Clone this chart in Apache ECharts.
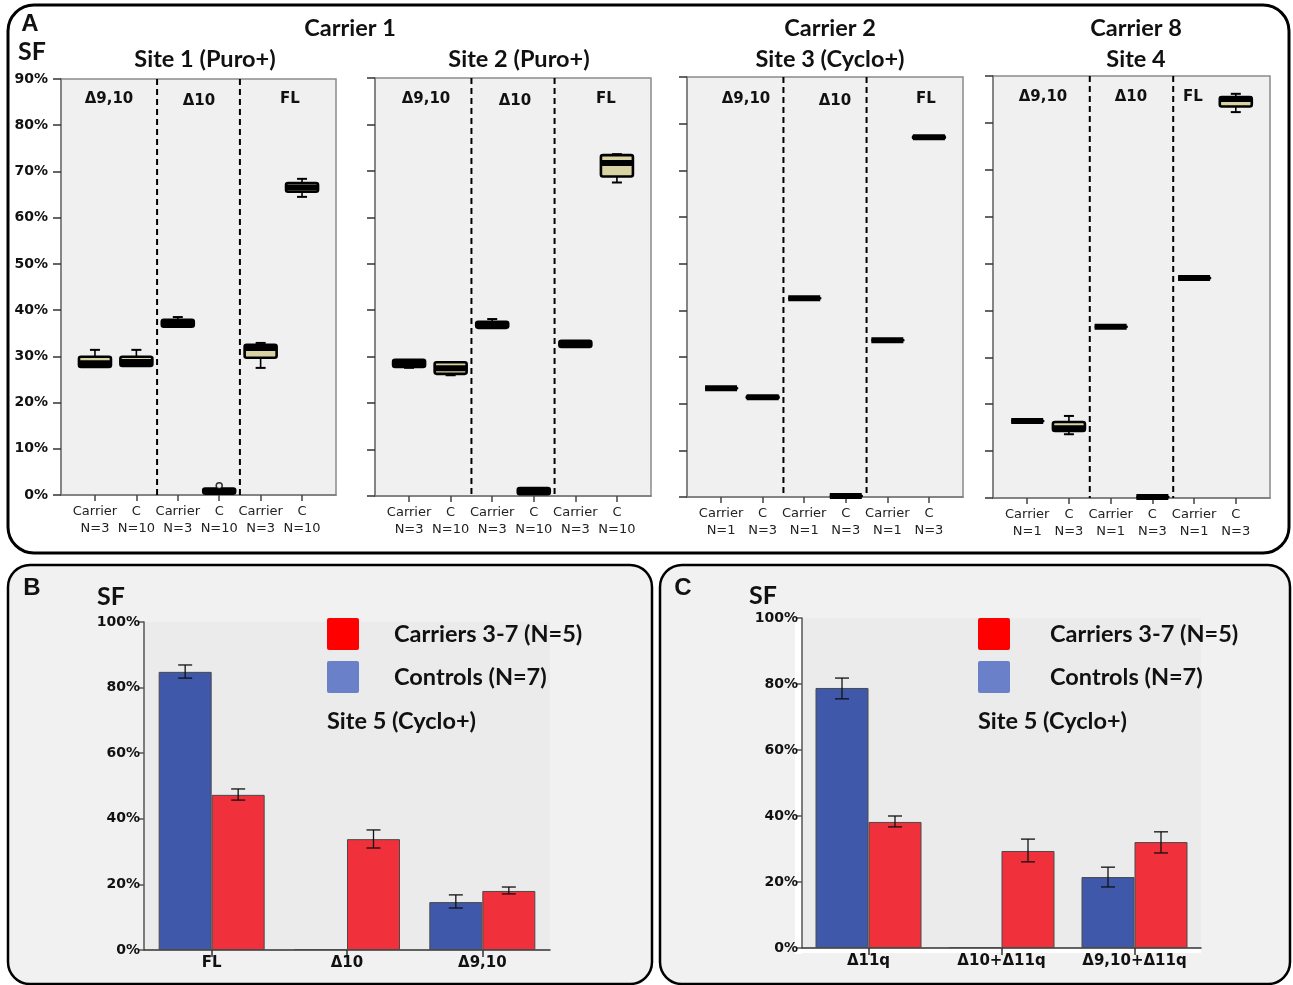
<!DOCTYPE html>
<html>
<head>
<meta charset="utf-8">
<script src="https://cdn.jsdelivr.net/npm/echarts@6/dist/echarts.min.js"></script>
<style>
  html, body { margin: 0; padding: 0; background: #fff; }
  #chart { width: 1293px; height: 985px; }
</style>
</head>
<body>
<div id="chart"></div>
<script>
// ---- Panel A: splicing fraction per site, box summaries [min, Q1, median, Q3, max] (%)
const groupNames = ['Δ9,10', 'Δ10', 'FL'];
const carrierTitles = ['Carrier 1', 'Carrier 2', 'Carrier 8'];
const siteTitles = ['Site 1 (Puro+)', 'Site 2 (Puro+)', 'Site 3 (Cyclo+)', 'Site 4'];
const boxCategories = ['Carrier', 'C', 'Carrier', 'C', 'Carrier', 'C'];
const sampleSizesSites12 = [3, 10, 3, 10, 3, 10];
const sampleSizesSites34 = [1, 3, 1, 3, 1, 3];
const percentTicksA = [0, 10, 20, 30, 40, 50, 60, 70, 80, 90];

const site1Boxes = [
  [27.7, 27.7, 28.5, 29.9, 31.4],
  [27.9, 27.9, 28.8, 29.9, 31.4],
  [36.4, 36.4, 37.2, 37.9, 38.5],
  [0.2, 0.3, 0.8, 1.4, 1.5],
  [27.5, 29.7, 31.8, 32.5, 32.9],
  [64.5, 65.6, 66.5, 67.5, 68.4]
];
const site1Outliers = [[3, 2.0]];
const site2Boxes = [
  [27.6, 27.8, 28.6, 29.3, 29.3],
  [26.0, 26.3, 27.5, 28.8, 28.9],
  [36.2, 36.2, 36.9, 37.5, 38.1],
  [0.4, 0.4, 1.0, 1.7, 1.7],
  [32.1, 32.1, 32.8, 33.4, 33.4],
  [67.5, 68.8, 71.7, 73.4, 73.6]
];
const site3Boxes = [
  [23.3, 23.3, 23.3, 23.3, 23.3],
  [21.2, 21.2, 21.4, 21.6, 21.6],
  [42.6, 42.6, 42.6, 42.6, 42.6],
  [0.2, 0.2, 0.2, 0.2, 0.2],
  [33.6, 33.6, 33.6, 33.6, 33.6],
  [76.9, 76.9, 77.1, 77.3, 77.3]
];
const site4Boxes = [
  [16.4, 16.4, 16.4, 16.4, 16.4],
  [13.6, 14.3, 14.9, 16.2, 17.5],
  [36.5, 36.5, 36.5, 36.5, 36.5],
  [0.2, 0.2, 0.2, 0.2, 0.2],
  [46.9, 46.9, 46.9, 46.9, 46.9],
  [82.3, 83.5, 85.1, 85.5, 86.2]
];

// ---- Panels B and C: mean SF with error range, Site 5 (Cyclo+)
const seriesCarriers = 'Carriers 3-7 (N=5)';
const seriesControls = 'Controls (N=7)';
const percentTicksBC = [0, 20, 40, 60, 80, 100];

const panelBCategories = ['FL', 'Δ10', 'Δ9,10'];
const panelBControls = [84.8, 0.3, 14.6];
const panelBControlsErr = [[82.9, 86.9], null, [12.8, 16.8]];
const panelBCarriers = [47.3, 33.8, 18.0];
const panelBCarriersErr = [[45.7, 49.1], [31.1, 36.6], [17.1, 19.2]];

const panelCCategories = ['Δ11q', 'Δ10+Δ11q', 'Δ9,10+Δ11q'];
const panelCControls = [78.8, 0.3, 21.5];
const panelCControlsErr = [[75.5, 81.8], null, [18.5, 24.5]];
const panelCCarriers = [38.2, 29.4, 32.1];
const panelCCarriersErr = [[36.7, 40.0], [26.1, 33.0], [28.8, 35.2]];

// ---------------------------------------------------------------
const sites = [
  { boxes: site1Boxes, n: sampleSizesSites12, outliers: site1Outliers, grid: { left: 61, top: 79, width: 275, height: 416 } },
  { boxes: site2Boxes, n: sampleSizesSites12, outliers: [], grid: { left: 375, top: 78, width: 276, height: 418 } },
  { boxes: site3Boxes, n: sampleSizesSites34, outliers: [], grid: { left: 687, top: 77, width: 276, height: 420 } },
  { boxes: site4Boxes, n: sampleSizesSites34, outliers: [], grid: { left: 993, top: 76, width: 277, height: 422 } }
];

const BOX_HALF = 16, CAP_HALF = 5;

function renderBox(params, api) {
  const x = api.value(0);
  const pt = v => api.coord([x, v]);
  const cx = pt(api.value(1))[0];
  const yMin = pt(api.value(1))[1];
  const yQ1 = pt(api.value(2))[1];
  const yMed = pt(api.value(3))[1];
  const yQ3 = pt(api.value(4))[1];
  const yMax = pt(api.value(5))[1];
  const line = (x1, y1, x2, y2, w) => ({
    type: 'line', shape: { x1, y1, x2, y2 },
    style: { stroke: '#000', lineWidth: w, lineCap: 'butt' }
  });
  const children = [];
  if (yQ3 - yMax > 0.5) {
    children.push(line(cx, yQ3, cx, yMax, 1.6), line(cx - CAP_HALF, yMax, cx + CAP_HALF, yMax, 2));
  }
  if (yMin - yQ1 > 0.5) {
    children.push(line(cx, yQ1, cx, yMin, 1.6), line(cx - CAP_HALF, yMin, cx + CAP_HALF, yMin, 2));
  }
  children.push({
    type: 'rect',
    shape: { x: cx - BOX_HALF, y: yQ3, width: BOX_HALF * 2, height: yQ1 - yQ3, r: 2 },
    style: { fill: '#d9d2a2', stroke: '#000', lineWidth: 2.6, lineJoin: 'round' }
  });
  children.push(line(cx - BOX_HALF, yMed, cx + BOX_HALF, yMed, 6));
  return { type: 'group', children };
}

function renderSeparator(params, api) {
  const x = api.value(0);
  const top = api.coord([x, 90]);
  const bottom = api.coord([x, 0]);
  return {
    type: 'line',
    shape: { x1: top[0], y1: top[1], x2: bottom[0], y2: bottom[1] },
    style: { stroke: '#000', lineWidth: 2, lineDash: [6, 4] }
  };
}

const BAR_W = 53;
function renderErrorBar(params, api) {
  const side = api.value(3);
  const lo = api.coord([api.value(0), api.value(1)]);
  const hi = api.coord([api.value(0), api.value(2)]);
  const x = lo[0] + side * BAR_W / 2;
  const cap = 7;
  const st = { stroke: '#111', lineWidth: 1.3 };
  return {
    type: 'group',
    children: [
      { type: 'line', shape: { x1: x, y1: lo[1], x2: x, y2: hi[1] }, style: st },
      { type: 'line', shape: { x1: x - cap, y1: lo[1], x2: x + cap, y2: lo[1] }, style: st },
      { type: 'line', shape: { x1: x - cap, y1: hi[1], x2: x + cap, y2: hi[1] }, style: st }
    ]
  };
}

const FONT_AXIS = 'DejaVu Sans';
const FONT_TITLE = 'Lato';

const grids = [], xAxes = [], yAxes = [], series = [];

sites.forEach((site, i) => {
  grids.push(Object.assign({
    show: true, backgroundColor: '#f0f0f0', borderColor: '#8a8a8a', borderWidth: 1.5, containLabel: false
  }, site.grid));
  xAxes.push({
    type: 'value', gridIndex: i, min: -0.82, max: 5.82,
    splitLine: { show: false },
    axisLine: { show: true, onZero: false, lineStyle: { color: '#7a7a7a', width: 1.5 } },
    axisTick: { show: true, customValues: [0, 1, 2, 3, 4, 5], length: 6, lineStyle: { color: '#444', width: 1.5 } },
    axisLabel: {
      show: true, customValues: [0, 1, 2, 3, 4, 5],
      formatter: v => boxCategories[v] + '\nN=' + site.n[v],
      fontFamily: FONT_AXIS, fontSize: 13, color: '#222', lineHeight: 17, margin: 8
    }
  });
  yAxes.push({
    type: 'value', gridIndex: i, min: 0, max: 90, interval: 10,
    splitLine: { show: false },
    axisLine: { show: true, onZero: false, lineStyle: { color: '#7a7a7a', width: 1.5 } },
    axisTick: { show: true, length: 8, lineStyle: { color: '#333', width: 1.5 } },
    axisLabel: {
      show: i === 0, formatter: '{value}%', fontFamily: FONT_AXIS, fontWeight: 'bold',
      fontSize: 14, color: '#111', margin: 13
    }
  });
  series.push({
    type: 'custom', name: 'separators-' + i, xAxisIndex: i, yAxisIndex: i,
    renderItem: renderSeparator, data: [[1.5], [3.5]], encode: { x: 0 }, silent: true, z: 3
  });
  series.push({
    type: 'custom', name: 'boxes-' + i, xAxisIndex: i, yAxisIndex: i,
    renderItem: renderBox,
    data: site.boxes.map((b, k) => [k].concat(b)),
    encode: { x: 0, y: [1, 2, 3, 4, 5] }, z: 4
  });
  if (site.outliers.length) {
    series.push({
      type: 'scatter', xAxisIndex: i, yAxisIndex: i, data: site.outliers,
      symbol: 'circle', symbolSize: 6,
      itemStyle: { color: '#f0f0f0', borderColor: '#000', borderWidth: 1.5 }, z: 5
    });
  }
});

// Panels B and C share the same layout
const barPanels = [
  { cats: panelBCategories, ctrl: panelBControls, ctrlErr: panelBControlsErr, carr: panelBCarriers, carrErr: panelBCarriersErr,
    grid: { left: 144, top: 622, width: 406, height: 328 } },
  { cats: panelCCategories, ctrl: panelCControls, ctrlErr: panelCControlsErr, carr: panelCCarriers, carrErr: panelCCarriersErr,
    grid: { left: 802, top: 618, width: 399, height: 330 } }
];

barPanels.forEach((p, j) => {
  const gi = 4 + j;
  grids.push(Object.assign({ show: true, backgroundColor: '#ebebeb', borderWidth: 0 }, p.grid));
  xAxes.push({
    type: 'category', gridIndex: gi, data: p.cats,
    axisLine: { show: true, lineStyle: { color: '#333', width: 1.5 } },
    axisTick: { show: true, alignWithLabel: true, length: 7, lineStyle: { color: '#333', width: 1.5 } },
    axisLabel: { interval: 0, fontFamily: FONT_AXIS, fontWeight: 'bold', fontSize: 15, color: '#111', margin: 6 }
  });
  yAxes.push({
    type: 'value', gridIndex: gi, min: 0, max: 100, interval: 20,
    splitLine: { show: false },
    axisLine: { show: true, lineStyle: { color: '#555', width: 1.5 } },
    axisTick: { show: true, length: 5, lineStyle: { color: '#555', width: 1.5 } },
    axisLabel: { formatter: '{value}%', fontFamily: FONT_AXIS, fontWeight: 'bold', fontSize: 14, color: '#111', margin: 4 }
  });
  const barStyle = (c) => ({ color: c, borderColor: '#4a4a4a', borderWidth: 1 });
  series.push({
    type: 'bar', name: seriesControls, xAxisIndex: gi, yAxisIndex: gi, data: p.ctrl,
    barWidth: BAR_W, barGap: '0%', itemStyle: barStyle('#3f58aa'), z: 3
  });
  series.push({
    type: 'bar', name: seriesCarriers, xAxisIndex: gi, yAxisIndex: gi, data: p.carr,
    barWidth: BAR_W, barGap: '0%', itemStyle: barStyle('#f0303a'), z: 3
  });
  const errData = [];
  p.ctrlErr.forEach((e, k) => { if (e) errData.push([k, e[0], e[1], -1]); });
  p.carrErr.forEach((e, k) => { if (e) errData.push([k, e[0], e[1], 1]); });
  series.push({
    type: 'custom', name: 'error-' + j, xAxisIndex: gi, yAxisIndex: gi,
    renderItem: renderErrorBar, data: errData, encode: { x: 0, y: [1, 2] }, z: 5, silent: true
  });
});

function legendFor(left, pad) {
  return {
    left, top: 618, padding: 0, orient: 'vertical', itemWidth: 32, itemHeight: 32, itemGap: 11,
    selectedMode: false, icon: 'path://M2,0 H30 Q32,0 32,2 V30 Q32,32 30,32 H2 Q0,32 0,30 V2 Q0,0 2,0 Z',
    data: [
      { name: seriesCarriers, itemStyle: { color: '#ff0000', borderWidth: 0 } },
      { name: seriesControls, itemStyle: { color: '#6a80c8', borderWidth: 0 } }
    ],
    textStyle: { fontFamily: FONT_TITLE, fontSize: 23.5, fontWeight: 'bold', color: '#111', padding: [5, 0, 0, pad] }
  };
}

const txt = (x, y, text, font, align) => ({
  type: 'text', x, y, z: 20,
  style: { text, font, fill: '#111', textAlign: align || 'center', textVerticalAlign: 'middle', align: align || 'center', verticalAlign: 'middle' }
});

const titleFont = 'bold 23.5px ' + FONT_TITLE;
const groupFont = 'bold 15px ' + FONT_AXIS;
const groupLabelPos = [
  [[109, 99], [199, 101], [290, 99]],
  [[426, 99], [515, 101], [606, 99]],
  [[746, 99], [835, 101], [926, 99]],
  [[1043, 97], [1131, 97], [1193, 97]]
];

const graphics = [
  { type: 'rect', z: -10, shape: { x: 8, y: 5, width: 1281, height: 548, r: 26 }, style: { fill: '#fff', stroke: '#000', lineWidth: 3 } },
  { type: 'rect', z: -10, shape: { x: 8, y: 565, width: 644, height: 419, r: 22 }, style: { fill: '#f1f1f1', stroke: '#000', lineWidth: 2.5 } },
  { type: 'rect', z: -10, shape: { x: 660, y: 565, width: 630, height: 419, r: 22 }, style: { fill: '#f1f1f1', stroke: '#000', lineWidth: 2.5 } },
  // white backing strip along the axes of panel C
  { type: 'rect', z: -5, shape: { x: 795, y: 616, width: 7, height: 338 }, style: { fill: '#ffffff' } },
  { type: 'rect', z: -5, shape: { x: 795, y: 948, width: 406, height: 5 }, style: { fill: '#ffffff' } },
  txt(30, 24, 'A', 'bold 24px Liberation Sans'),
  txt(32, 52, 'SF', 'bold 25px ' + FONT_TITLE),
  txt(350, 28, carrierTitles[0], titleFont),
  txt(830, 28, carrierTitles[1], titleFont),
  txt(1136, 28, carrierTitles[2], titleFont),
  txt(205, 59, siteTitles[0], titleFont),
  txt(519, 59, siteTitles[1], titleFont),
  txt(830, 59, siteTitles[2], titleFont),
  txt(1136, 59, siteTitles[3], titleFont),
  txt(32, 588, 'B', 'bold 24px Liberation Sans'),
  txt(111, 597, 'SF', 'bold 25px ' + FONT_TITLE),
  txt(327, 721, 'Site 5 (Cyclo+)', 'bold 23.5px ' + FONT_TITLE, 'left'),
  txt(683, 588, 'C', 'bold 24px Liberation Sans'),
  txt(763, 596, 'SF', 'bold 25px ' + FONT_TITLE),
  txt(978, 721, 'Site 5 (Cyclo+)', 'bold 23.5px ' + FONT_TITLE, 'left')
];
groupLabelPos.forEach(site => site.forEach((pos, g) => graphics.push(txt(pos[0], pos[1], groupNames[g], groupFont))));

const chart = echarts.init(document.getElementById('chart'), null, { renderer: 'canvas' });
chart.setOption({
  backgroundColor: '#ffffff',
  animation: false,
  grid: grids,
  xAxis: xAxes,
  yAxis: yAxes,
  legend: [legendFor(327, 30), legendFor(978, 35)],
  graphic: graphics,
  series
});
</script>
</body>
</html>
